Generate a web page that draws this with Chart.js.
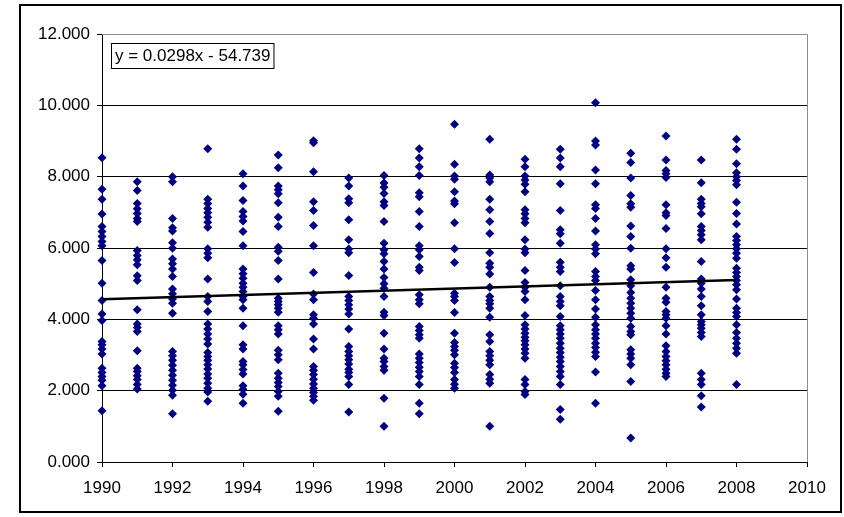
<!DOCTYPE html>
<html>
<head>
<meta charset="utf-8">
<title>Scatter 1990-2008</title>
<script src="https://cdn.jsdelivr.net/npm/chart.js@4/dist/chart.umd.min.js"></script>
<style>
  body { margin: 0; background: #fff; }
  #wrap { width: 844px; height: 517px; position: relative; }
</style>
</head>
<body>
<div id="wrap"><canvas id="chart" width="844" height="517"></canvas></div>
<script>
// values, one list per year
const years = [1990, 1991, 1992, 1993, 1994, 1995, 1996, 1997, 1998, 1999,
               2000, 2001, 2002, 2003, 2004, 2005, 2006, 2007, 2008];

const v1990 = [8.53, 7.65, 7.37, 6.95, 6.60, 6.46, 6.32, 6.18, 6.06, 5.65, 5.01, 4.53, 4.15, 3.97, 3.38, 3.29, 3.17, 3.03, 2.63, 2.51, 2.40, 2.29, 2.14, 1.44];
const v1991 = [7.86, 7.61, 7.25, 7.10, 6.97, 6.83, 6.74, 5.93, 5.79, 5.67, 5.53, 5.22, 5.09, 4.27, 3.87, 3.77, 3.66, 3.12, 2.63, 2.54, 2.42, 2.31, 2.17, 2.05];
const v1992 = [8.00, 7.86, 6.83, 6.57, 6.48, 6.15, 5.99, 5.69, 5.56, 5.41, 5.20, 4.85, 4.72, 4.57, 4.45, 4.17, 3.10, 2.98, 2.85, 2.71, 2.57, 2.43, 2.29, 2.15, 2.01, 1.87, 1.35];
const v1993 = [8.78, 7.37, 7.25, 7.11, 6.99, 6.86, 6.72, 6.58, 5.98, 5.85, 5.73, 5.13, 4.64, 4.50, 4.22, 3.87, 3.73, 3.59, 3.45, 3.31, 3.07, 2.96, 2.85, 2.73, 2.61, 2.47, 2.35, 2.21, 2.07, 1.96, 1.70];
const v1994 = [8.08, 7.74, 7.33, 7.02, 6.88, 6.76, 6.46, 6.06, 5.41, 5.28, 5.15, 5.01, 4.90, 4.78, 4.64, 4.55, 4.31, 3.82, 3.29, 3.17, 2.82, 2.73, 2.59, 2.47, 2.14, 2.03, 1.90, 1.65];
const v1995 = [8.61, 8.25, 7.74, 7.63, 7.52, 7.27, 6.86, 6.60, 6.02, 5.91, 5.65, 5.13, 4.59, 4.50, 4.41, 4.31, 4.20, 3.82, 3.71, 3.59, 3.13, 3.01, 2.87, 2.49, 2.35, 2.23, 2.12, 1.98, 1.84, 1.42];
const v1996 = [9.01, 8.95, 8.14, 7.30, 7.05, 6.63, 6.06, 5.31, 4.71, 4.55, 4.13, 4.03, 3.87, 3.45, 3.17, 2.68, 2.57, 2.45, 2.32, 2.19, 2.07, 1.95, 1.84, 1.73];
const v1997 = [7.96, 7.74, 7.38, 7.27, 6.79, 6.23, 5.97, 5.87, 5.23, 4.64, 4.53, 4.41, 4.29, 4.15, 3.73, 3.24, 3.10, 2.98, 2.87, 2.75, 2.60, 2.51, 2.40, 2.17, 1.40];
const v1998 = [8.03, 7.82, 7.70, 7.53, 7.30, 7.19, 6.74, 6.13, 5.95, 5.84, 5.62, 5.41, 5.17, 5.00, 4.87, 4.64, 4.20, 4.11, 3.61, 3.17, 2.91, 2.82, 2.68, 2.57, 1.79, 1.00];
const v1999 = [8.78, 8.52, 8.28, 8.03, 7.55, 7.44, 7.02, 6.60, 6.06, 5.95, 5.76, 5.46, 5.37, 4.69, 4.55, 4.44, 3.80, 3.69, 3.57, 3.47, 3.03, 2.91, 2.79, 2.66, 2.54, 2.40, 2.17, 1.65, 1.35];
const v2000 = [9.47, 8.35, 8.02, 7.93, 7.58, 7.32, 7.24, 6.71, 5.98, 5.59, 4.73, 4.64, 4.53, 4.19, 3.61, 3.35, 3.24, 3.13, 3.01, 2.77, 2.65, 2.51, 2.31, 2.18, 2.07];
const v2001 = [9.05, 8.05, 7.96, 7.86, 7.37, 7.07, 6.74, 6.41, 5.87, 5.57, 5.46, 5.27, 4.90, 4.64, 4.53, 4.44, 4.31, 4.06, 3.57, 3.38, 3.10, 2.98, 2.85, 2.73, 2.45, 2.32, 2.21, 1.00];
const v2002 = [8.49, 8.28, 8.02, 7.91, 7.79, 7.58, 7.07, 6.96, 6.83, 6.71, 6.23, 5.97, 5.87, 5.37, 5.03, 4.90, 4.78, 4.55, 4.11, 3.85, 3.73, 3.61, 3.50, 3.40, 3.29, 3.17, 3.05, 2.91, 2.31, 2.17, 1.98, 1.89];
const v2003 = [8.77, 8.52, 8.28, 7.80, 7.05, 6.51, 6.40, 6.13, 5.60, 5.46, 5.34, 4.94, 4.64, 4.50, 4.38, 4.08, 3.82, 3.71, 3.59, 3.47, 3.33, 3.19, 3.07, 2.94, 2.82, 2.68, 2.54, 2.40, 2.17, 1.47, 1.20];
const v2004 = [10.07, 9.00, 8.89, 8.19, 7.80, 7.21, 7.11, 6.83, 6.48, 6.09, 5.97, 5.84, 5.34, 5.20, 5.09, 4.81, 4.55, 4.29, 4.06, 3.85, 3.71, 3.59, 3.47, 3.33, 3.21, 3.08, 2.96, 2.52, 1.65];
const v2005 = [8.66, 8.40, 7.96, 7.47, 7.24, 7.14, 6.62, 6.32, 5.99, 5.50, 5.41, 5.11, 4.94, 4.75, 4.59, 4.45, 4.31, 4.17, 4.03, 3.80, 3.66, 3.57, 3.15, 3.03, 2.91, 2.73, 2.26, 0.67];
const v2006 = [9.14, 8.47, 8.17, 8.08, 7.98, 7.21, 6.99, 6.91, 6.55, 5.98, 5.73, 5.46, 4.90, 4.59, 4.48, 4.22, 4.13, 4.03, 3.82, 3.59, 3.26, 3.10, 2.96, 2.84, 2.73, 2.60, 2.49, 2.40];
const v2007 = [8.47, 7.83, 7.37, 7.25, 7.16, 6.96, 6.60, 6.49, 6.37, 6.23, 5.62, 5.13, 5.01, 4.85, 4.64, 4.38, 4.13, 3.94, 3.85, 3.75, 3.63, 3.52, 2.49, 2.31, 2.17, 1.86, 1.54];
const v2008 = [9.05, 8.77, 8.36, 8.11, 8.00, 7.89, 7.77, 7.28, 6.97, 6.67, 6.32, 6.21, 6.09, 5.98, 5.85, 5.71, 5.43, 5.31, 5.20, 5.09, 4.97, 4.83, 4.57, 4.31, 4.19, 4.08, 3.85, 3.63, 3.47, 3.33, 3.19, 3.05, 2.17];

const yearValues = [v1990, v1991, v1992, v1993, v1994, v1995, v1996, v1997, v1998, v1999,
                    v2000, v2001, v2002, v2003, v2004, v2005, v2006, v2007, v2008];

// linear trend as printed on the chart
const trendSlope = 0.0298;
const trendIntercept = -54.739;

const xTicks = [1990, 1992, 1994, 1996, 1998, 2000, 2002, 2004, 2006, 2008, 2010];
const yTicks = [0, 2, 4, 6, 8, 10, 12];

const FONT = "'Liberation Sans', Arial, sans-serif";

// build the scatter points
const points = [];
years.forEach((yr, i) => {
  yearValues[i].forEach(v => points.push({ x: yr, y: v }));
});

const firstYear = years[0];
const lastYear = years[years.length - 1];
const trendPoints = [
  { x: firstYear, y: trendSlope * firstYear + trendIntercept },
  { x: lastYear, y: trendSlope * lastYear + trendIntercept }
];
const equationText = `y = ${trendSlope}x - ${Math.abs(trendIntercept)}`;

// outer frame, plot frame and equation box
const decorations = {
  id: "decorations",
  beforeDraw(chart) {
    const ctx = chart.ctx;
    ctx.save();
    ctx.fillStyle = "#fff";
    ctx.fillRect(0, 0, chart.width, chart.height);
    ctx.strokeStyle = "#000";
    ctx.lineWidth = 2;
    ctx.strokeRect(20, 5, 821, 507);
    ctx.restore();
  },
  beforeDatasetsDraw(chart) {
    const ctx = chart.ctx;
    const a = chart.chartArea;
    ctx.save();
    // gray top/right plot border
    ctx.strokeStyle = "#8c8c8c";
    ctx.lineWidth = 1;
    ctx.beginPath();
    ctx.moveTo(a.left, Math.round(a.top) + 0.5);
    ctx.lineTo(Math.round(a.right) + 0.5, Math.round(a.top) + 0.5);
    ctx.lineTo(Math.round(a.right) + 0.5, a.bottom);
    ctx.stroke();
    ctx.restore();
  },
  afterDatasetsDraw(chart) {
    const ctx = chart.ctx;
    ctx.save();
    // equation label
    ctx.font = "17px " + FONT;
    const w = ctx.measureText(equationText).width;
    ctx.fillStyle = "#fff";
    ctx.fillRect(111, 43, w + 7, 25);
    ctx.strokeStyle = "#000";
    ctx.lineWidth = 1;
    ctx.strokeRect(111.5, 43.5, w + 7, 25);
    ctx.fillStyle = "#000";
    ctx.textBaseline = "middle";
    ctx.fillText(equationText, 115, 56.5);
    ctx.restore();
  }
};

new Chart(document.getElementById("chart"), {
  type: "scatter",
  data: {
    datasets: [
      {
        type: "line",
        label: "Trend",
        data: trendPoints,
        borderColor: "#000",
        borderWidth: 2.5,
        pointRadius: 0,
        fill: false
      },
      {
        label: "Values",
        data: points,
        clip: false,
        pointStyle: "rectRot",
        pointRadius: 4.5,
        pointBackgroundColor: "#000080",
        pointBorderColor: "#000080",
        pointBorderWidth: 0
      }
    ]
  },
  options: {
    responsive: false,
    animation: false,
    devicePixelRatio: 1,
    layout: { padding: { left: 0, right: 37, top: 34, bottom: 0 } },
    plugins: {
      legend: { display: false },
      tooltip: { enabled: false }
    },
    scales: {
      x: {
        type: "linear",
        min: xTicks[0],
        max: xTicks[xTicks.length - 1],
        afterBuildTicks: axis => { axis.ticks = xTicks.map(v => ({ value: v })); },
        afterFit: axis => { axis.height = 55; },
        grid: {
          drawOnChartArea: false,
          drawTicks: true,
          tickLength: 5,
          color: "#000"
        },
        border: { color: "#000", width: 1 },
        ticks: {
          color: "#000",
          padding: 11,
          maxRotation: 0,
          font: { family: FONT, size: 17 },
          callback: v => String(v)
        }
      },
      y: {
        min: yTicks[0],
        max: yTicks[yTicks.length - 1],
        afterBuildTicks: axis => { axis.ticks = yTicks.map(v => ({ value: v })); },
        afterFit: axis => { axis.width = 102; },
        grid: {
          color: "#000",
          lineWidth: 1,
          tickLength: 5
        },
        border: { color: "#000", width: 1 },
        ticks: {
          color: "#000",
          padding: 7,
          font: { family: FONT, size: 17 },
          callback: v => Number(v).toFixed(3)
        }
      }
    }
  },
  plugins: [decorations]
});
</script>
</body>
</html>
